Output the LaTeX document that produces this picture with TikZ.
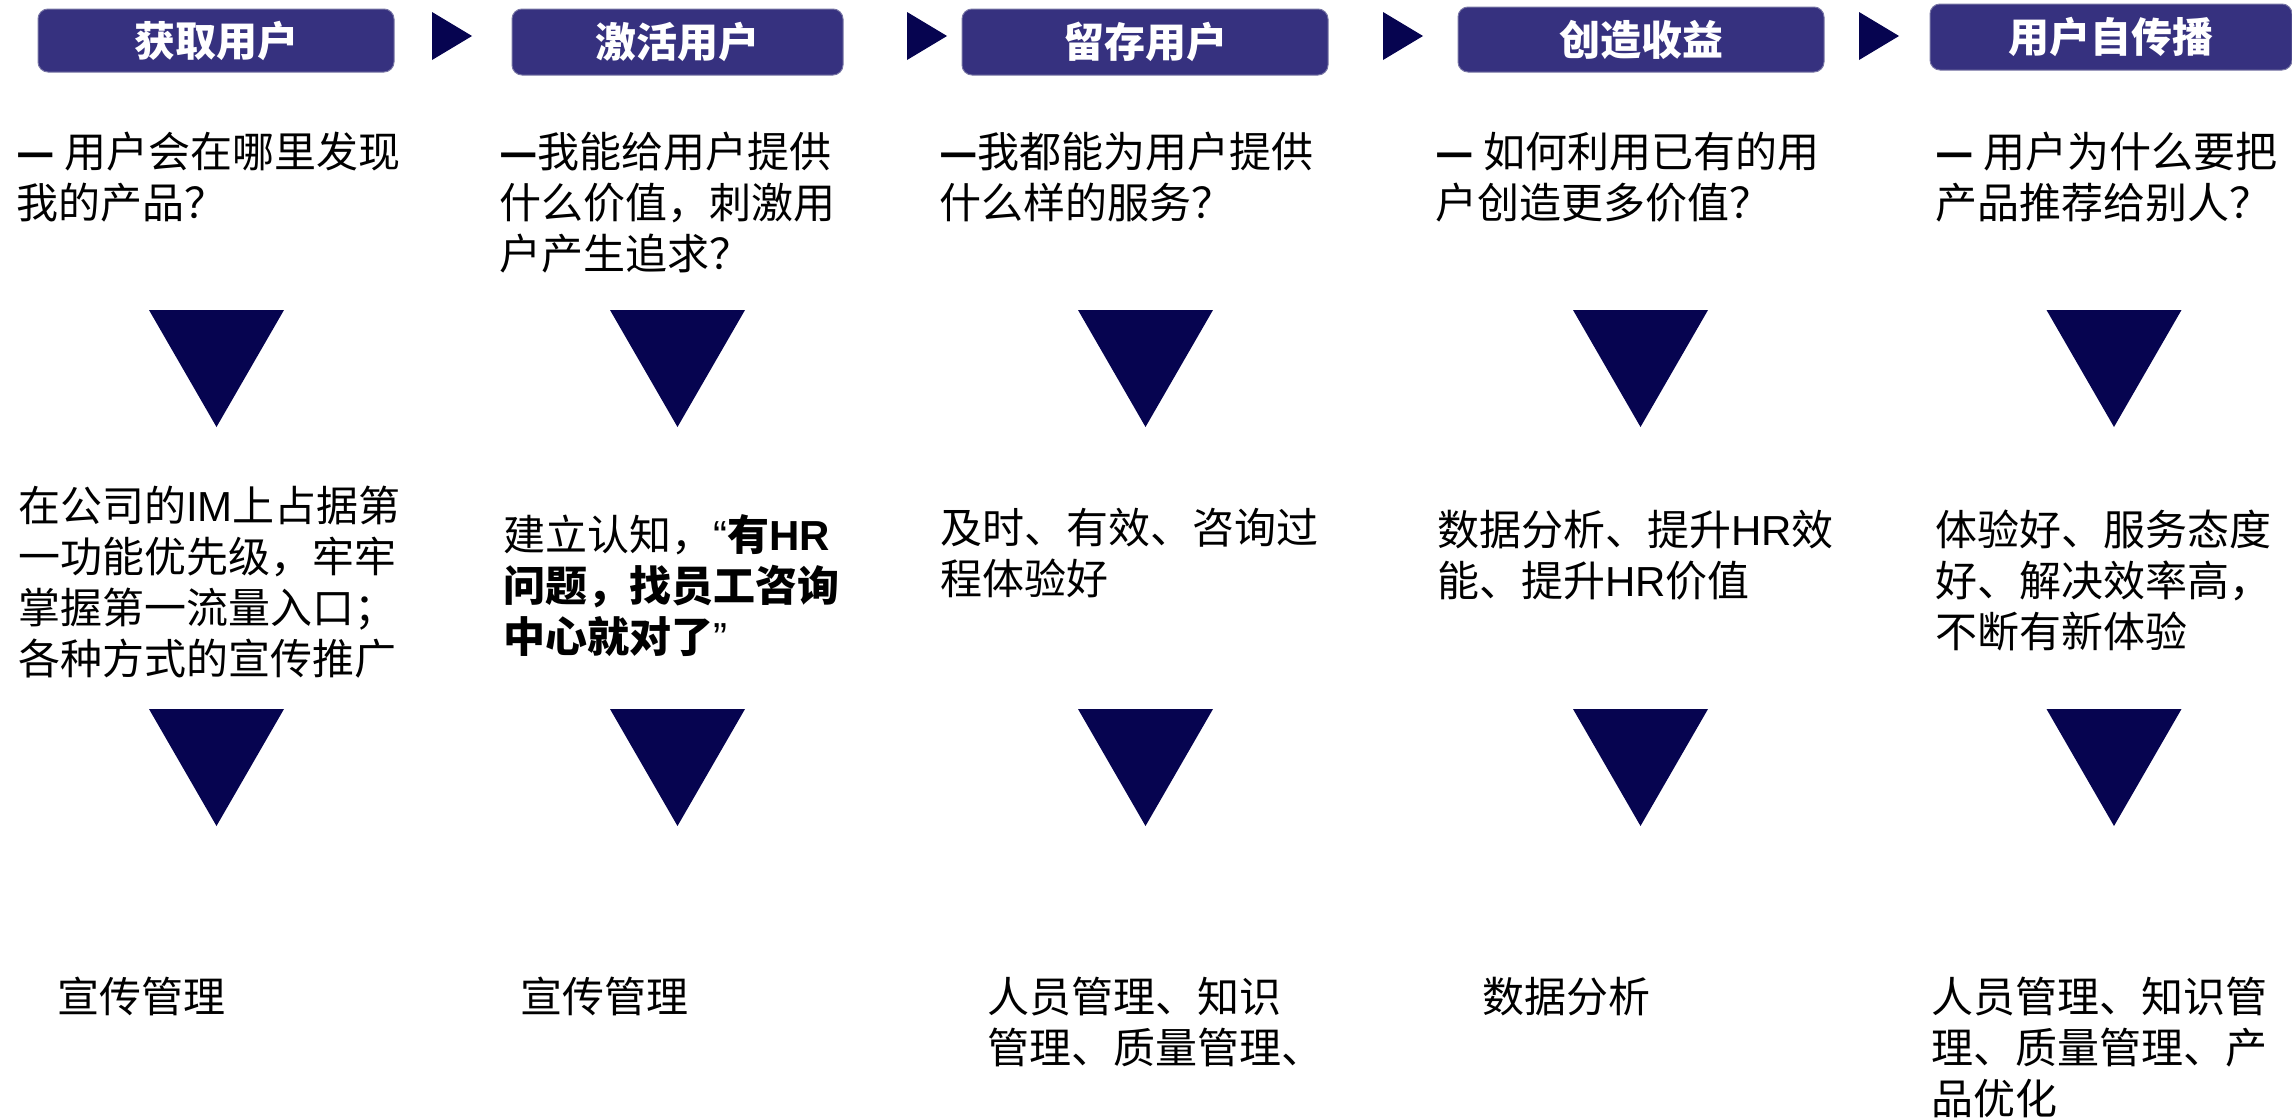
\documentclass[tikz,border=0pt]{standalone}
\usepackage{fontspec}
\setmainfont{Noto Sans CJK SC}
\newfontfamily\lat{Liberation Sans}
\definecolor{hdr}{RGB}{54,49,127}
\definecolor{hdrline}{RGB}{120,118,165}
\definecolor{navy}{RGB}{6,4,80}
\newcommand{\dsh}{\textbf{—}}
\tikzset{
  hdrbox/.style={draw=hdrline, line width=1pt, fill=hdr, rounded corners=10pt, text=white,
    inner sep=0pt, font=\fontsize{41}{48}\selectfont\bfseries},
  txt/.style={anchor=north west, inner sep=0pt, align=left, font=\fontsize{42}{51}\selectfont},
  downtri/.pic={\fill[navy] (-67.5,0) -- (67.5,0) -- (0,117) -- cycle;},
  rarrow/.pic={\fill[navy] (0,0) -- (40,24) -- (0,48) -- cycle;}
}
\begin{document}
\begin{tikzpicture}[x=1pt,y=-1pt]
\useasboundingbox (0,0) rectangle (2292,1119);
% headers
\node[hdrbox, minimum width=356pt, minimum height=63pt] (h1) at (216,40.5) {获取用户};
\node[hdrbox, minimum width=331pt, minimum height=66pt] (h2) at (677.5,42) {激活用户};
\node[hdrbox, minimum width=366pt, minimum height=66pt] (h3) at (1145,42) {留存用户};
\node[hdrbox, minimum width=366pt, minimum height=65pt] (h4) at (1641,39.5) {创造收益};
\node[hdrbox, minimum width=362pt, minimum height=66pt] (h5) at (2111,37) {用户自传播};
% arrows between headers
\pic (a1) at (432,12) {rarrow};
\pic (a2) at (907,12) {rarrow};
\pic (a3) at (1383,12) {rarrow};
\pic (a4) at (1859,12) {rarrow};
% questions
\node[txt] (q1) at (16,132) {\dsh{} 用户会在哪里发现\\我的产品？};
\node[txt] (q2) at (499,132) {\dsh 我能给用户提供\\什么价值，刺激用\\户产生追求？};
\node[txt] (q3) at (939,132) {\dsh 我都能为用户提供\\什么样的服务？};
\node[txt] (q4) at (1435,132) {\dsh{} 如何利用已有的用\\户创造更多价值？};
\node[txt] (q5) at (1935,132) {\dsh{} 用户为什么要把\\产品推荐给别人？};
% first row of triangles
\pic (t1) at (216.5,310) {downtri};
\pic (t2) at (677.5,310) {downtri};
\pic (t3) at (1145.5,310) {downtri};
\pic (t4) at (1640.5,310) {downtri};
\pic (t5) at (2114,310) {downtri};
% answers
\node[txt] (c1) at (18,486) {在公司的{\lat IM}上占据第\\一功能优先级，牢牢\\掌握第一流量入口；\\各种方式的宣传推广};
\node[txt] (c2) at (503,514) {建立认知，{\lat “}\textbf{有{\lat HR}}\\\textbf{问题，找员工咨询}\\\textbf{中心就对了}{\lat ”}};
\node[txt] (c3) at (940,508) {及时、有效、咨询过\\程体验好};
\node[txt] (c4) at (1437,510) {数据分析、提升{\lat HR}效\\能、提升{\lat HR}价值};
\node[txt] (c5) at (1935,510) {体验好、服务态度\\好、解决效率高，\\不断有新体验};
% second row of triangles
\pic (u1) at (216.5,709) {downtri};
\pic (u2) at (677.5,709) {downtri};
\pic (u3) at (1145.5,709) {downtri};
\pic (u4) at (1640.5,709) {downtri};
\pic (u5) at (2114,709) {downtri};
% modules
\node[txt] (d1) at (57,977) {宣传管理};
\node[txt] (d2) at (520,977) {宣传管理};
\node[txt] (d3) at (987,977) {人员管理、知识\\管理、质量管理、};
\node[txt] (d4) at (1482,977) {数据分析};
\node[txt] (d5) at (1931,977) {人员管理、知识管\\理、质量管理、产\\品优化};
\end{tikzpicture}
\end{document}
